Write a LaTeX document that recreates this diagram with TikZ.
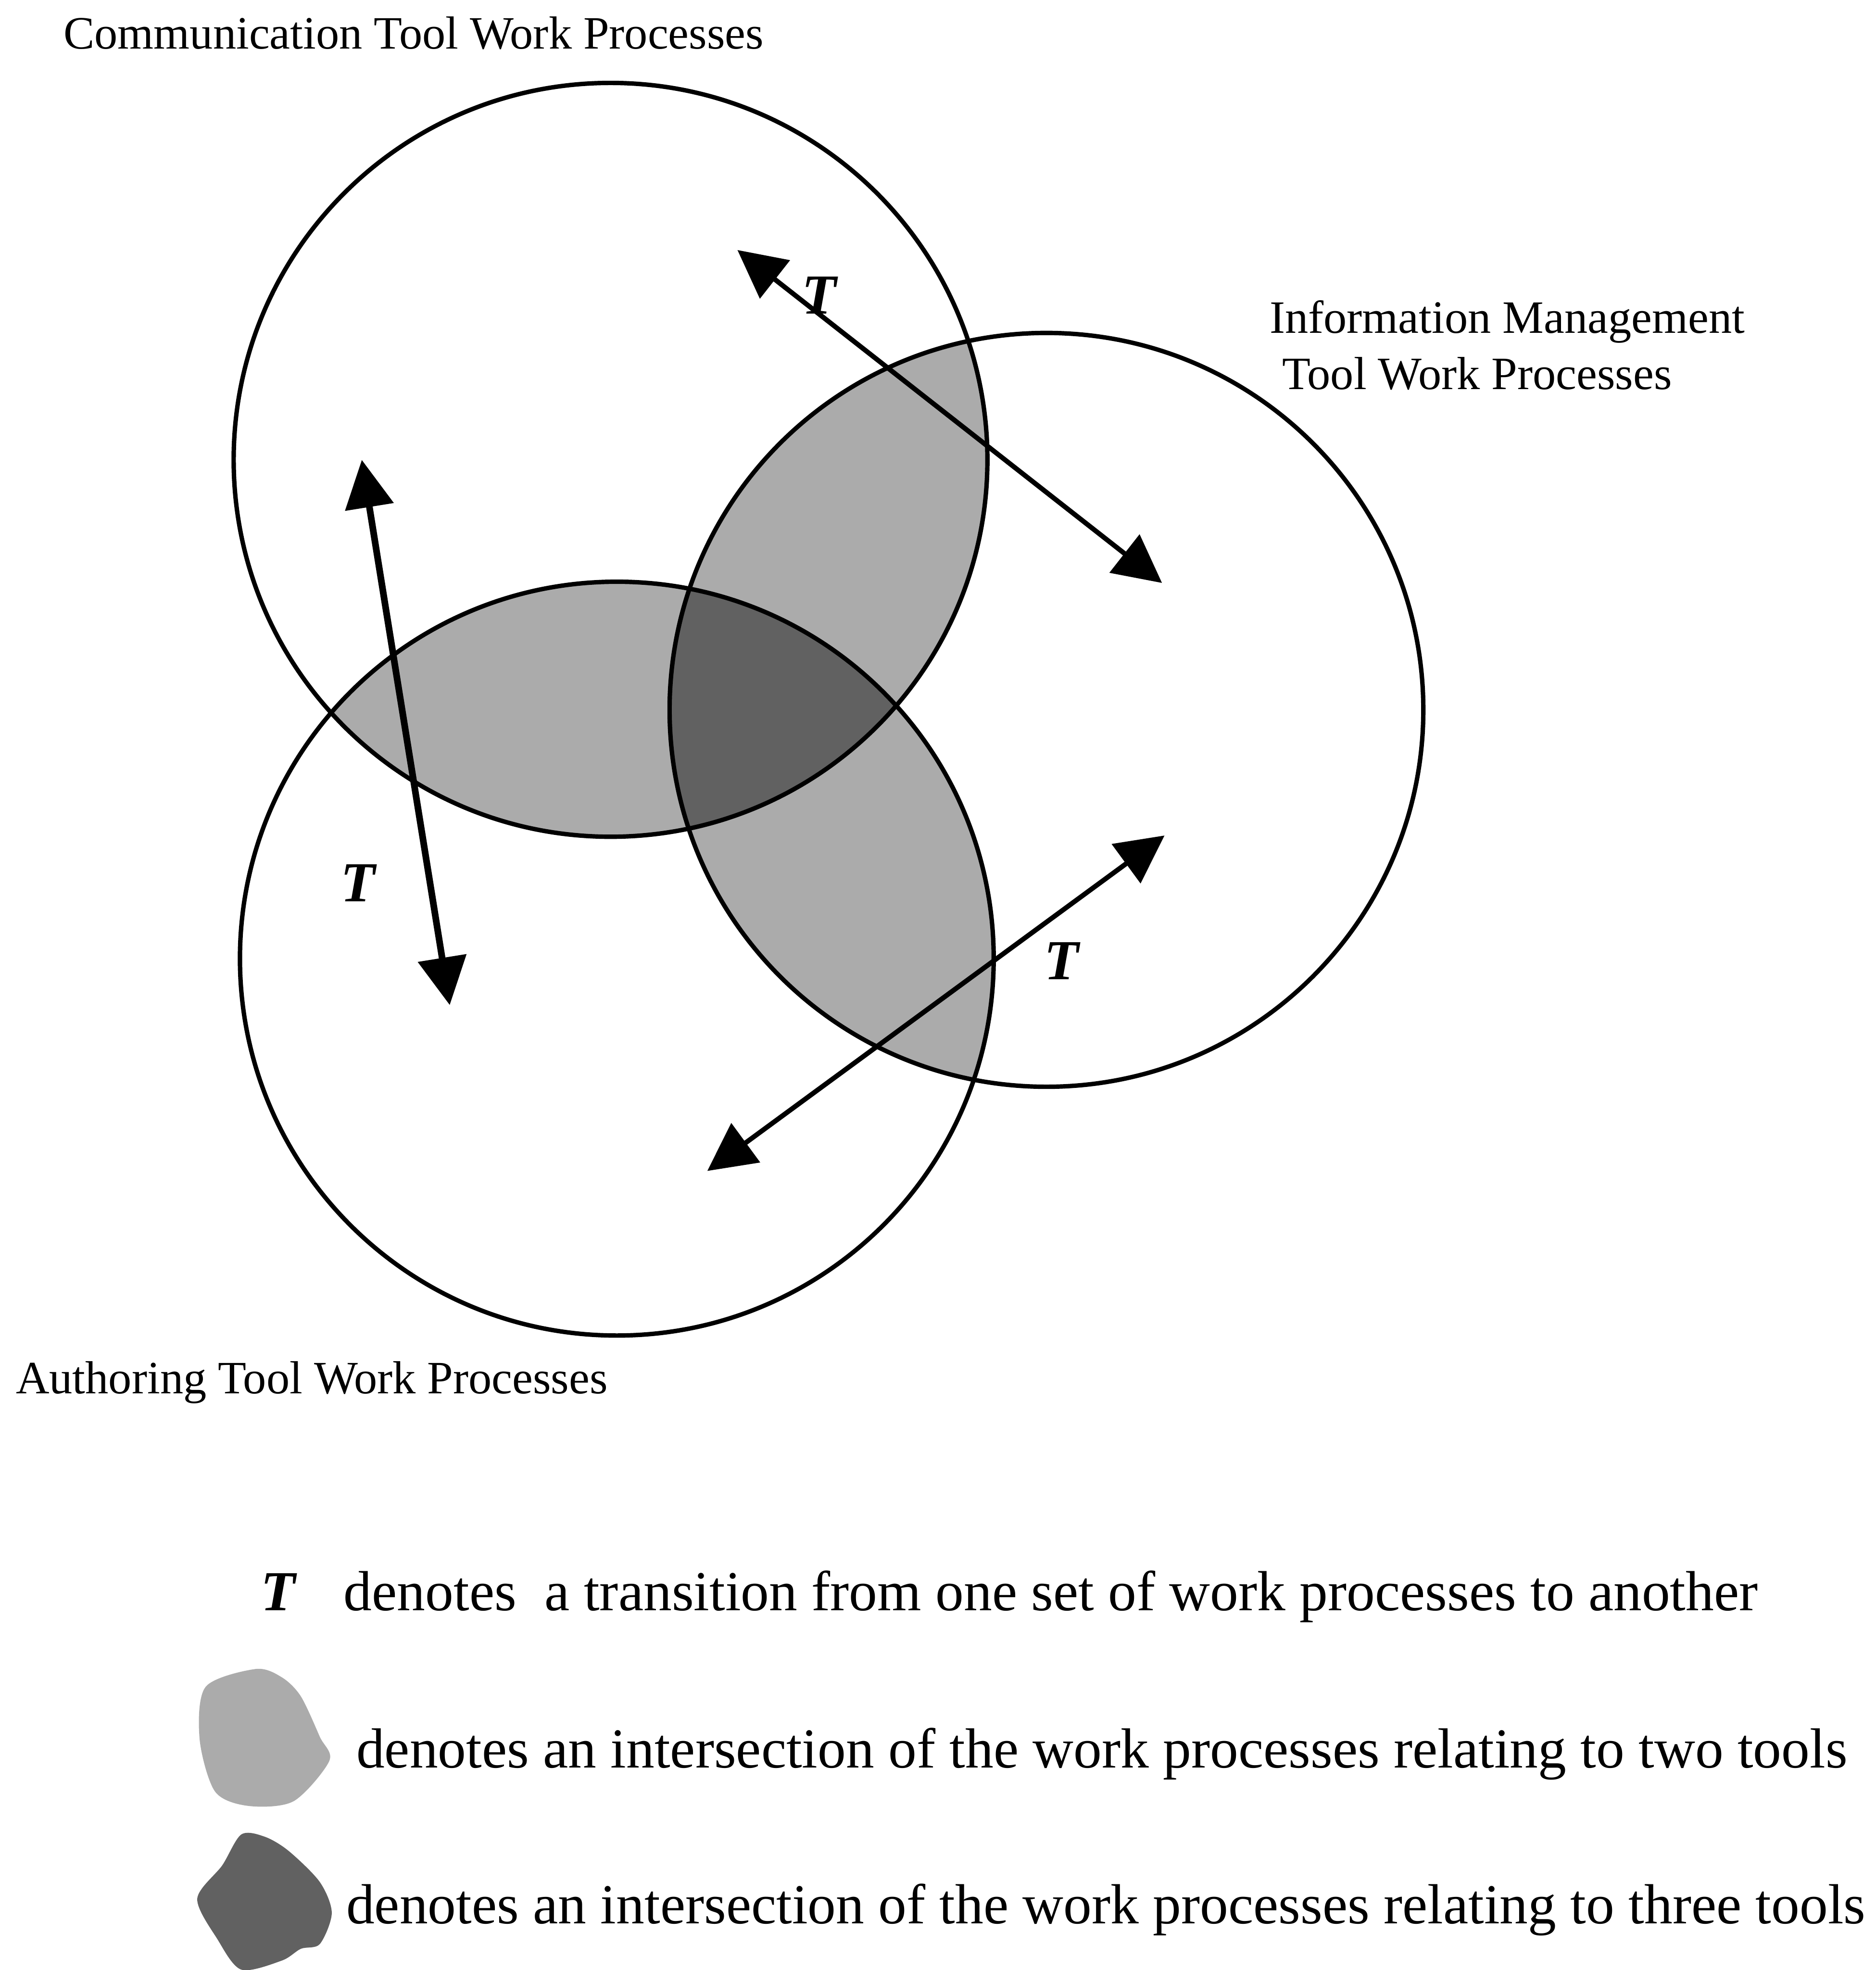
\documentclass[tikz,border=0pt]{standalone}
\usepackage{fontspec}
\setmainfont{Liberation Serif}
\usetikzlibrary{arrows.meta, positioning}

\begin{document}
\begin{tikzpicture}[
        toolset/.style={draw, line width=1pt},
        twotools/.style={fill=black!33},
        threetools/.style={fill=black!62},
        transition/.style={{Triangle[length=3.8mm, width=3.8mm]}-{Triangle[length=3.8mm, width=3.8mm]}, line width=1.1pt},
        caption/.style={font=\fontsize{10.5}{12.8}\selectfont, anchor=base west, inner sep=0pt, align=left},
        legend/.style={font=\fontsize{12.8}{15}\selectfont, anchor=base west, inner sep=0pt},
        tlabel/.style={font=\fontsize{12.8}{15}\selectfont\bfseries\itshape, inner sep=0pt}
    ]
        \useasboundingbox (0,0) rectangle (14.93,-15.68);

        % Tool sets
        \coordinate (comm) at (4.86,-3.66);
        \coordinate (info) at (8.33,-5.65);
        \coordinate (auth) at (4.91,-7.63);

        % Two tools
        \begin{scope}
            \clip (comm) circle (3);
            \fill[twotools] (info) circle (3);
            \fill[twotools] (auth) circle (3);
        \end{scope}
        \begin{scope}
            \clip (info) circle (3);
            \fill[twotools] (auth) circle (3);
        \end{scope}

        % Three tools
        \begin{scope}
            \clip (comm) circle (3);
            \clip (info) circle (3);
            \fill[threetools] (auth) circle (3);
        \end{scope}

        \draw[toolset] (comm) circle (3);
        \draw[toolset] (info) circle (3);
        \draw[toolset] (auth) circle (3);

        % Labels
        \node[caption] (commlabel) at (0.50,-0.39) {Communication Tool Work Processes};
        \node[caption] (infolabel) at (10.10,-3.10) {Information Management\\\hspace{1mm}Tool Work Processes};
        \node[caption] (authlabel) at (0.12,-11.09) {Authoring Tool Work Processes};

        % Transitions
        \coordinate (ca1) at (2.88,-3.66);
        \coordinate (ca2) at (3.58,-8.00);
        \coordinate (ci1) at (5.87,-1.99);
        \coordinate (ci2) at (9.25,-4.64);
        \coordinate (ia1) at (9.27,-6.65);
        \coordinate (ia2) at (5.63,-9.32);

        \draw[transition, line width=1.5pt] (ca1) -- (ca2);
        \draw[transition] (ci1) -- (ci2);
        \draw[transition] (ia1) -- (ia2);

        \node[tlabel] (tca) at (2.85,-7.03) {T};
        \node[tlabel] (tci) at (6.52,-2.35) {T};
        \node[tlabel] (tia) at (8.45,-7.65) {T};

        % Legend
        \node[legend, font=\fontsize{12.8}{15}\selectfont\bfseries\itshape] (legendt) at (2.07,-12.82) {T};
        \node[legend] (legendone) at (2.73,-12.82) {denotes\ \ a transition from one set of work processes to another};

        \fill[twotools] plot[smooth cycle] coordinates {(2.035,-13.284) (1.637,-13.426) (1.589,-13.843) (1.712,-14.260) (1.978,-14.374) (2.338,-14.336) (2.622,-14.014) (2.546,-13.824) (2.395,-13.502) (2.243,-13.350)};
        \node[legend] (legendtwo) at (2.83,-14.07) {denotes an intersection of the work processes relating to two tools};

        \fill[threetools] plot[smooth cycle] coordinates {(1.921,-14.601) (1.769,-14.847) (1.570,-15.113) (1.731,-15.435) (1.921,-15.677) (2.243,-15.605) (2.395,-15.511) (2.546,-15.473) (2.641,-15.226) (2.546,-14.980) (2.300,-14.734) (2.110,-14.620)};
        \node[legend] (legendthree) at (2.75,-15.31) {denotes an intersection of the work processes relating to three tools};

    \end{tikzpicture}
\end{document}
